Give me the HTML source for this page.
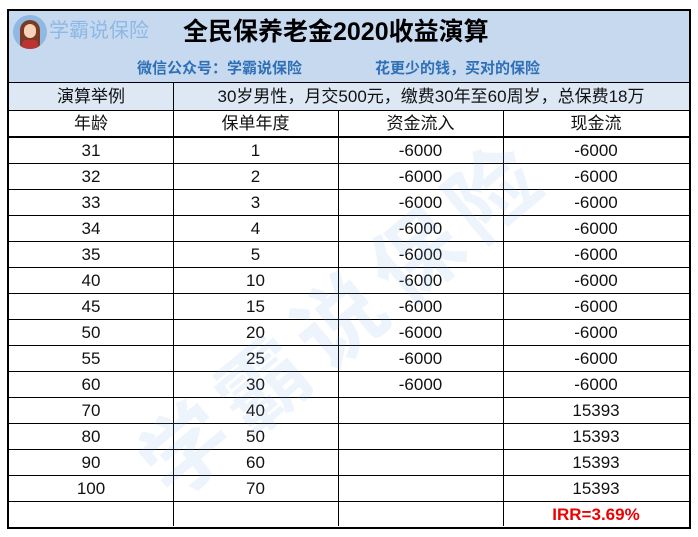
<!DOCTYPE html>
<html style="overflow:hidden;width:698px;height:537px"><head><meta charset="utf-8"><style>
body{margin:0;width:698px;height:537px;background:#fff;position:relative;overflow:hidden;font-family:"Liberation Sans","Noto Sans CJK SC",sans-serif;}
.box{position:absolute;left:7px;top:9px;width:680px;height:516px;border:2px solid #000;}
.hdr{position:absolute;left:9px;top:11px;width:680px;height:71px;background:#c6d9ef;}
.hl{position:absolute;background:#000;}
.t{position:absolute;text-align:center;font-size:17px;color:#111;line-height:27px;}
.wm{position:absolute;left:108px;top:425px;font-size:88px;font-weight:bold;color:rgba(120,170,230,0.13);transform:rotate(-40deg);transform-origin:left top;white-space:nowrap;letter-spacing:12px;}
</style></head><body>
<div class="hdr"></div>
<div style="position:absolute;left:9px;top:82px;width:680px;height:28px;background:#dde8f4"></div>
<div class="box"></div>
<div style="position:absolute;left:13px;top:15px;width:34px;height:34px;border-radius:50%;background:#8fb9e3;overflow:hidden">
<div style="position:absolute;left:7px;top:5px;width:20px;height:28px;border-radius:10px 10px 4px 4px;background:#7a3b22"></div>
<div style="position:absolute;left:11px;top:9px;width:12px;height:14px;border-radius:6px;background:#f6d3b8"></div>
<div style="position:absolute;left:9px;top:25px;width:16px;height:10px;background:#b33;border-radius:4px 4px 0 0"></div>
</div>
<div style="position:absolute;left:49px;top:18px;font-size:20px;color:#8db8e6;line-height:26px">学霸说保险</div>
<div style="position:absolute;left:183px;top:15px;font-size:25px;font-weight:bold;color:#000;line-height:34px">全民保养老金2020收益演算</div>
<div style="position:absolute;left:137px;top:58px;font-size:15px;font-weight:bold;color:#2f6fb5;line-height:22px">微信公众号：学霸说保险</div>
<div style="position:absolute;left:375px;top:58px;font-size:15px;font-weight:bold;color:#2f6fb5;line-height:22px">花更少的钱，买对的保险</div>
<div class="hl" style="left:9px;top:82px;width:680px;height:1px"></div>
<div class="hl" style="left:9px;top:110px;width:680px;height:1px"></div>
<div id="rows"></div>
<div class="wm">学霸说保险</div>
<script>
var d=[[31,1,-6000,-6000],[32,2,-6000,-6000],[33,3,-6000,-6000],[34,4,-6000,-6000],[35,5,-6000,-6000],[40,10,-6000,-6000],[45,15,-6000,-6000],[50,20,-6000,-6000],[55,25,-6000,-6000],[60,30,-6000,-6000],[70,40,'',15393],[80,50,'',15393],[90,60,'',15393],[100,70,'',15393]];
var cols=[9,173,338,503,689];var h='';
function cell(c,y,txt,style){h+='<div class="t" style="left:'+cols[c]+'px;width:'+(cols[c+1]-cols[c])+'px;top:'+y+'px;'+(style||'')+'">'+txt+'</div>';}
h+='<div class="t" style="left:9px;width:164px;top:83px">演算举例</div>';
h+='<div class="t" style="left:173px;width:516px;top:83px">30岁男性，月交500元，缴费30年至60周岁，总保费18万</div>';
var hd=['年龄','保单年度','资金流入','现金流'];
for(var i=0;i<4;i++)cell(i,110,hd[i]);
for(var r=0;r<d.length;r++){var y=137+r*26;h+='<div class="hl" style="left:9px;top:'+y+'px;width:680px;height:1px"></div>';for(var i=0;i<4;i++)cell(i,y,d[r][i]);}
var y=137+14*26;h+='<div class="hl" style="left:9px;top:'+y+'px;width:680px;height:1px"></div>';
cell(3,y,'IRR=3.69%','color:#e00;font-weight:bold');
h+='<div class="hl" style="left:9px;top:136px;width:680px;height:1px"></div>';
h+='<div class="hl" style="left:173px;top:82px;width:1px;height:444px"></div>';
for(var c=2;c<4;c++)h+='<div class="hl" style="left:'+cols[c]+'px;top:110px;width:1px;height:416px"></div>';
document.getElementById('rows').innerHTML=h;
</script>
</body></html>
